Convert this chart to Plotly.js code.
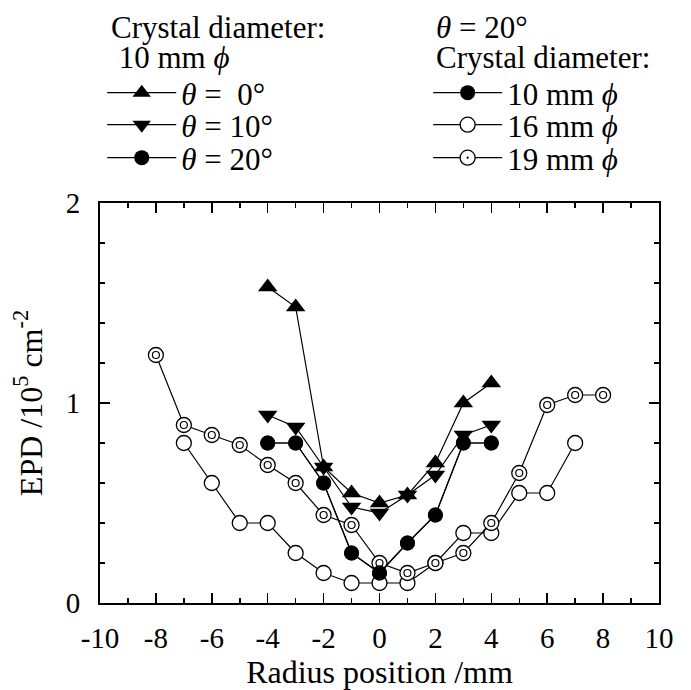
<!DOCTYPE html>
<html>
<head>
<meta charset="utf-8">
<script src="https://cdn.plot.ly/plotly-3.0.1.min.js"></script>
<style>html,body{margin:0;padding:0;background:#fff;}#chart{width:691px;height:690px;}</style>
</head>
<body>
<div id="chart"></div>
<script>
// Radius positions (mm)
var xTheta = [-4, -3, -2, -1, 0, 1, 2, 3, 4];
// 10 mm crystal, various theta
var epdTheta0  = [1.58, 1.48, 0.68, 0.55, 0.50, 0.54, 0.70, 1.00, 1.10];
var epdTheta10 = [0.94, 0.88, 0.68, 0.48, 0.45, 0.54, 0.64, 0.84, 0.89];
var epdTheta20 = [0.80, 0.80, 0.60, 0.25, 0.15, 0.30, 0.44, 0.80, 0.80];
// theta = 20, other diameters
var x16 = [-7, -6, -5, -4, -3, -2, -1, 0, 1, 2, 3, 4, 5, 6, 7];
var epd16 = [0.80, 0.60, 0.40, 0.40, 0.25, 0.15, 0.10, 0.10, 0.10, 0.20, 0.35, 0.35, 0.55, 0.55, 0.80];
var x19 = [-8, -7, -6, -5, -4, -3, -2, -1, 0, 1, 2, 3, 4, 5, 6, 7, 8];
var epd19 = [1.24, 0.89, 0.84, 0.79, 0.69, 0.60, 0.44, 0.39, 0.20, 0.15, 0.20, 0.25, 0.40, 0.65, 0.99, 1.04, 1.04];
// tick labels
var xTickVals = [-10, -8, -6, -4, -2, 0, 2, 4, 6, 8, 10];
var xTickText = ["-10", "-8", "-6", "-4", "-2", "0", "2", "4", "6", "8", "10"];
var yTickVals = [0, 1, 2];
var yTickText = ["0", "1", "2"];

var FONT = "Liberation Serif, Times New Roman, serif";
var PHI = "<i>ϕ</i>";
var LFS = 31;
var lineStyle = {color: "#000", width: 1.2};

var traces = [
  {x: x16, y: epd16, mode: "lines+markers", name: "16 mm " + PHI, legend: "legend5",
   line: lineStyle, marker: {symbol: "circle", size: 15, color: "#fff", line: {color: "#000", width: 1.3}}},
  {x: x19, y: epd19, mode: "lines+markers", name: "19 mm " + PHI, legend: "legend6",
   line: lineStyle, marker: {symbol: "circle-dot", size: 15, color: "#fff", line: {color: "#000", width: 1.3}}},
  {x: x19, y: epd19, mode: "markers", showlegend: false, hoverinfo: "skip",
   marker: {symbol: "circle", size: 7, color: "#fff", line: {color: "#000", width: 1.2}}},
  {x: xTheta, y: epdTheta20, mode: "lines+markers", name: "10 mm " + PHI, legend: "legend4",
   line: lineStyle, marker: {symbol: "circle", size: 15, color: "#000"}},
  {x: xTheta, y: epdTheta0, mode: "lines+markers", name: "<i>θ</i> =  0°", legend: "legend",
   line: lineStyle, marker: {symbol: "triangle-up", size: 17, color: "#000"}},
  {x: xTheta, y: epdTheta10, mode: "lines+markers", name: "<i>θ</i> = 10°", legend: "legend2",
   line: lineStyle, marker: {symbol: "triangle-down", size: 17, color: "#000"}},
  {x: xTheta, y: epdTheta20, mode: "lines+markers", name: "<i>θ</i> = 20°", legend: "legend3",
   line: lineStyle, marker: {symbol: "circle", size: 15, color: "#000"}}
];

var axisCommon = {
  showline: true, linecolor: "#000", linewidth: 2, mirror: "ticks",
  ticks: "inside", ticklen: 10, tickwidth: 1.5, tickcolor: "#000",
  showgrid: false, zeroline: false,
  tickfont: {family: FONT, size: 29, color: "#000"}
};

function leg(x, y) {
  return {
    x: x, y: y, xanchor: "left", yanchor: "middle",
    bgcolor: "rgba(0,0,0,0)", borderwidth: 0,
    font: {family: FONT, size: LFS, color: "#000"},
    itemwidth: 69
  };
}

function ann(text, x, y) {
  return {text: text, x: x, y: y, xref: "paper", yref: "paper", xanchor: "left", yanchor: "middle",
          showarrow: false, font: {family: FONT, size: LFS, color: "#000"}};
}

var layout = {
  width: 691, height: 690,
  margin: {l: 100, r: 32, t: 203, b: 87},
  paper_bgcolor: "#fff", plot_bgcolor: "#fff",
  font: {family: FONT, size: LFS, color: "#000"},
  xaxis: Object.assign({}, axisCommon, {
    range: [-10, 10], tickmode: "array", tickvals: xTickVals, ticktext: xTickText,
    ticklabelstandoff: 8,
    minor: {dtick: 1, tick0: -10, ticks: "inside", ticklen: 5, tickwidth: 1.5, tickcolor: "#000"},
    title: {text: "Radius position /mm", font: {family: FONT, size: 32, color: "#000"}, standoff: 2}
  }),
  yaxis: Object.assign({}, axisCommon, {
    range: [0, 2], tickmode: "array", tickvals: yTickVals, ticktext: yTickText,
    ticklabelstandoff: 12,
    minor: {dtick: 0.2, tick0: 0, ticks: "inside", ticklen: 5, tickwidth: 1.5, tickcolor: "#000"},
    title: {text: "EPD /10<sup>5</sup> cm<sup>-2</sup>", font: {family: FONT, size: 32, color: "#000"}, standoff: 14}
  }),
  legend:  leg(0.004, 1.275),
  legend2: leg(0.004, 1.195),
  legend3: leg(0.004, 1.1125),
  legend4: leg(0.587, 1.275),
  legend5: leg(0.587, 1.195),
  legend6: leg(0.587, 1.1125),
  annotations: [
    ann("Crystal diameter:", 0.016, 1.44),
    ann(" 10 mm " + PHI, 0.016, 1.365),
    ann("<i>θ</i> = 20°", 0.5975, 1.44),
    ann("Crystal diameter:", 0.5975, 1.365)
  ],
  showlegend: true
};

Plotly.newPlot("chart", traces, layout, {staticPlot: true, displayModeBar: false});
</script>
</body>
</html>
